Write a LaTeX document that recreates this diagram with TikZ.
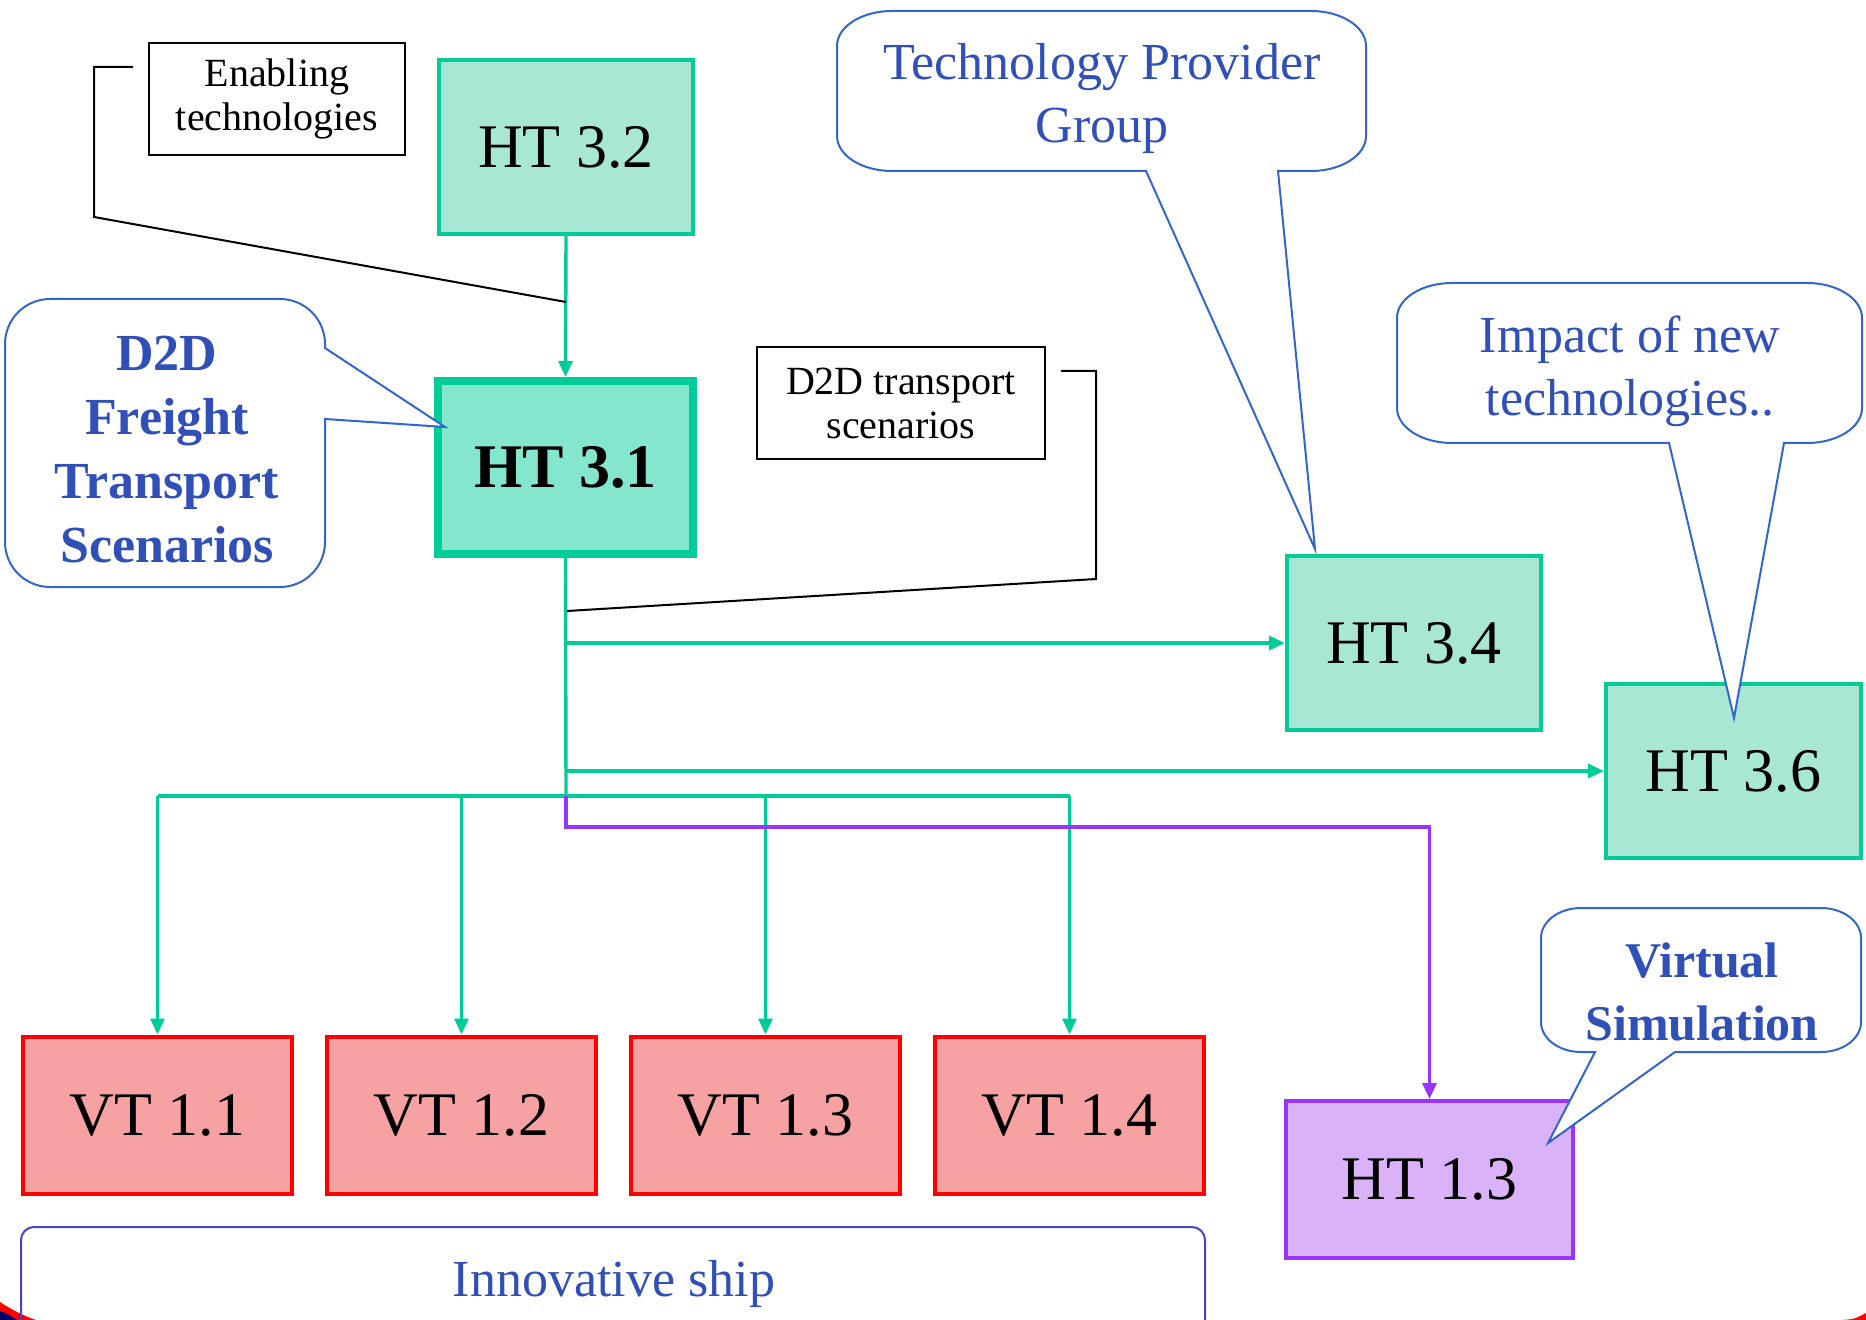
\documentclass[tikz,border=0pt]{standalone}
\usepackage{fontspec}
\setmainfont{Liberation Serif}
\usetikzlibrary{arrows.meta}
\definecolor{gB}{HTML}{00CC99}
\definecolor{gMain}{HTML}{84E6CC}
\definecolor{gDot}{HTML}{A8E7D4}
\definecolor{rB}{HTML}{FF0000}
\definecolor{rDot}{HTML}{F6A2A2}
\definecolor{pB}{HTML}{9933FF}
\definecolor{pDot}{HTML}{DAB2F7}
\definecolor{cLine}{HTML}{3366CC}
\definecolor{cText}{HTML}{3050B8}
\definecolor{iLine}{HTML}{4444CC}
\definecolor{navyC}{HTML}{000066}
\begin{document}
\begin{tikzpicture}[x=0.5pt,y=-0.5pt,
  box/.style={draw, line width=2pt, inner sep=0pt, font=\fontsize{31}{36}\selectfont},
  gbox/.style={box, draw=gB, fill=gDot, minimum width=127pt, minimum height=87pt},
  mainbox/.style={box, draw=gB, fill=gMain, line width=4pt, minimum width=127.5pt, minimum height=86.5pt, font=\fontsize{31}{36}\selectfont\bfseries},
  rbox/.style={box, draw=rB, fill=rDot, minimum width=134.5pt, minimum height=78.5pt},
  pbox/.style={box, draw=pB, fill=pDot, minimum width=143.5pt, minimum height=78.5pt},
  lbox/.style={draw=black, line width=1pt, inner sep=0pt, align=center, minimum width=128pt, minimum height=56pt, font=\fontsize{20}{22}\selectfont},
  gline/.style={draw=gB, line width=1.7pt},
  garrow/.style={gline, -{Triangle[length=8pt,width=7pt]}},
  parrow/.style={draw=pB, line width=1.7pt, -{Triangle[length=8pt,width=7pt]}},
  cline/.style={draw=black, line width=1pt},
  cshape/.style={draw=cLine, line width=1pt, fill=white},
  ctext/.style={text=cText, inner sep=0pt, align=center, font=\fontsize{26}{31.5}\selectfont},
]
\useasboundingbox (0,0) rectangle (1866,1320);
\fill[white] (0,0) rectangle (1866,1320);
\clip (0,0) rectangle (1866,1320);

% corner decorations
\fill[rB] (0,1302) .. controls (12,1310) and (24,1316) .. (36,1320) -- (0,1320) -- cycle;
\fill[navyC] (0,1311) .. controls (8,1314) .. (17,1320) -- (0,1320) -- cycle;
\fill[rB] (1842,1320) .. controls (1855,1319) .. (1866,1313) -- (1866,1320) -- cycle;

% boxes
\node[gbox] (ht32) at (566,147) {HT 3.2};
\node[mainbox] (ht31) at (565.5,467.5) {HT 3.1};
\node[gbox] (ht34) at (1414,643) {HT 3.4};
\node[gbox, minimum width=127.5pt] (ht36) at (1733.5,771) {HT 3.6};
\node[pbox] (ht13) at (1429.5,1179.5) {HT 1.3};
\node[rbox] (vt11) at (157.5,1115) {VT 1.1};
\node[rbox] (vt12) at (461.5,1115) {VT 1.2};
\node[rbox] (vt13) at (765.5,1115) {VT 1.3};
\node[rbox] (vt14) at (1069.5,1115) {VT 1.4};

% label boxes
\node[lbox] (enab) at (277,99) {Enabling\\technologies};
\node[lbox, minimum width=144pt] (d2dts) at (901,403) {D2D transport\\scenarios};

% connectors
\draw[garrow] (ht32.south) -- (ht31.north);
\coordinate (jv) at (566,796);
\draw[gline] (ht31.south) -- (jv);
\draw[garrow] (ht31.south |- ht34.west) -- (ht34.west);
\draw[garrow] (ht31.south |- ht36.west) -- (ht36.west);
\draw[gline] (vt11.north |- jv) -- (vt14.north |- jv);
\draw[garrow] (vt11.north |- jv) -- (vt11.north);
\draw[garrow] (vt12.north |- jv) -- (vt12.north);
\draw[garrow] (vt13.north |- jv) -- (vt13.north);
\draw[garrow] (vt14.north |- jv) -- (vt14.north);
\draw[parrow] (jv) -- ++(0,31) -| (ht13.north);

% leader lines of label boxes
\coordinate (enabstart) at (133,67);
\coordinate (enabtip) at (566,302);
\draw[cline] (enabstart) -- (94,67) -- (94,217) -- (enabtip);
\coordinate (d2dstart) at (1061,371);
\coordinate (d2dtip) at (567,611);
\draw[cline] (d2dstart) -- (1096,371) -- (1096,579) -- (d2dtip);

% callouts
\coordinate (tpgtip) at (1315,549);
\draw[cshape] (892,11) -- (1311,11) arc[start angle=-90,end angle=0,x radius=55,y radius=35]
  -- (1366,136) arc[start angle=0,end angle=90,x radius=55,y radius=35]
  -- (1278,171) -- (tpgtip) -- (1146,171) -- (892,171)
  arc[start angle=90,end angle=180,x radius=55,y radius=35]
  -- (837,46) arc[start angle=180,end angle=270,x radius=55,y radius=35] -- cycle;
\node[ctext] (tpg) at (1102,99) {Technology Provider\\Group};

\coordinate (imptip) at (1734,718);
\draw[cshape] (1452,283) -- (1807,283) arc[start angle=-90,end angle=0,x radius=55,y radius=35]
  -- (1862,408) arc[start angle=0,end angle=90,x radius=55,y radius=35]
  -- (1784,443) -- (imptip) -- (1669,443) -- (1452,443)
  arc[start angle=90,end angle=180,x radius=55,y radius=35]
  -- (1397,318) arc[start angle=180,end angle=270,x radius=55,y radius=35] -- cycle;
\node[ctext] (imp) at (1630,371) {Impact of new\\technologies..};

\coordinate (vstip) at (1548,1143);
\draw[cshape] (1581,908) -- (1821,908) arc[start angle=-90,end angle=0,x radius=40,y radius=30]
  -- (1861,1022) arc[start angle=0,end angle=90,x radius=40,y radius=30]
  -- (1675,1052) -- (vstip) -- (1595,1052) -- (1581,1052)
  arc[start angle=90,end angle=180,x radius=40,y radius=30]
  -- (1541,938) arc[start angle=180,end angle=270,x radius=40,y radius=30] -- cycle;
\node[ctext, font=\fontsize{25}{31.5}\selectfont\bfseries] (vs) at (1702,991.5) {Virtual\\Simulation};

\coordinate (fttip) at (445,427);
\draw[cshape] (50,299) -- (280,299) arc[start angle=-90,end angle=0,x radius=45,y radius=45]
  -- (325,348) -- (fttip) -- (325,419) -- (325,542)
  arc[start angle=0,end angle=90,x radius=45,y radius=45]
  -- (50,587) arc[start angle=90,end angle=180,x radius=45,y radius=45]
  -- (5,344) arc[start angle=180,end angle=270,x radius=45,y radius=45] -- cycle;
\node[ctext, font=\fontsize{26}{32}\selectfont\bfseries] (ft) at (167,449.5) {D2D\\Freight\\Transport\\Scenarios};

% innovative ship
\draw[draw=iLine, line width=1pt, rounded corners=6.5pt] (21,1227) rectangle (1205,1350);
\node[ctext, anchor=base] (ship) at (614,1296) {Innovative ship};
\end{tikzpicture}
\end{document}
